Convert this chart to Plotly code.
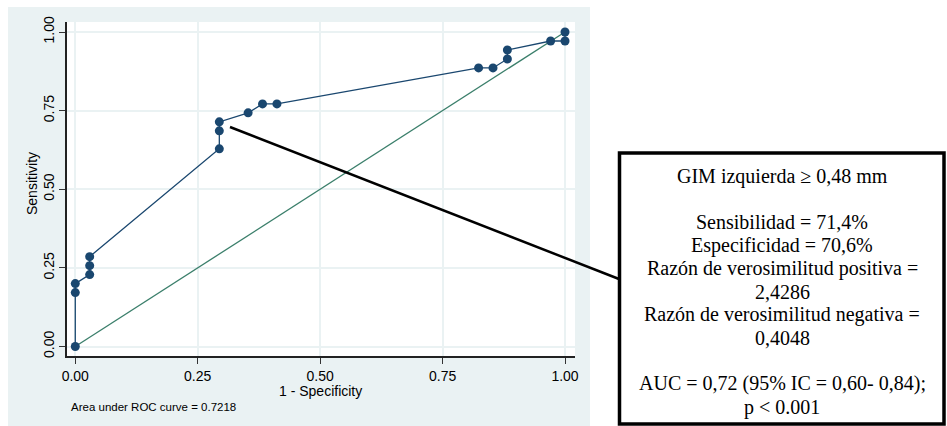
import plotly.graph_objects as go

# ROC curve points (1 - specificity, sensitivity)
fpr = [0, 0, 0, 1/34, 1/34, 1/34, 10/34, 10/34, 10/34, 12/34, 13/34, 14/34,
       28/34, 29/34, 30/34, 30/34, 33/34, 1, 1]
tpr = [0, 6/35, 7/35, 8/35, 9/35, 10/35, 22/35, 24/35, 25/35, 26/35, 27/35, 27/35,
       31/35, 31/35, 32/35, 33/35, 34/35, 34/35, 1]
ref_x = [0, 1]
ref_y = [0, 1]
tick_vals = [0, 0.25, 0.5, 0.75, 1.0]
tick_text = ["0.00", "0.25", "0.50", "0.75", "1.00"]
x_title = "1 - Specificity"
y_title = "Sensitivity"
auc_note = "Area under ROC curve = 0.7218"
box_lines = [
    "GIM izquierda ≥ 0,48 mm",
    "",
    "Sensibilidad = 71,4%",
    "Especificidad = 70,6%",
    "Razón de verosimilitud positiva =",
    "2,4286",
    "Razón de verosimilitud negativa =",
    "0,4048",
    "",
    "AUC = 0,72 (95% IC = 0,60- 0,84);",
    "p < 0.001",
]

W, H = 947, 426
L, R, T, B = 67, 575, 22, 356


def px(X):
    return (X - L) / (R - L)


def py(Y):
    return (B - Y) / (B - T)


BG = "#EAF2F3"
NAVY = "#1A476F"
GREEN = "#3B7F6B"
SANS = "Liberation Sans, Arial, sans-serif"
SERIF = "Liberation Serif, Times New Roman, serif"

fig = go.Figure()
fig.add_trace(go.Scatter(x=ref_x, y=ref_y, mode="lines",
                         line=dict(color=GREEN, width=1.3), showlegend=False,
                         hoverinfo="skip"))
fig.add_trace(go.Scatter(x=fpr, y=tpr, mode="lines+markers",
                         line=dict(color=NAVY, width=1.3),
                         marker=dict(color=NAVY, size=9),
                         showlegend=False, cliponaxis=False))

shapes = [
    dict(type="rect", xref="paper", yref="paper", x0=px(8), x1=px(590),
         y0=py(426), y1=py(7), fillcolor=BG, line=dict(width=0), layer="below"),
    dict(type="rect", xref="paper", yref="paper", x0=0, x1=1, y0=0, y1=1,
         fillcolor="white", line=dict(width=0), layer="below"),
    dict(type="line", xref="paper", yref="paper", x0=px(230), y0=py(127),
         x1=px(619), y1=py(279), line=dict(color="black", width=2.5), layer="above"),
    dict(type="rect", xref="paper", yref="paper", x0=px(619.5), x1=px(944),
         y0=py(424), y1=py(153), fillcolor="white",
         line=dict(color="black", width=3.5), layer="above"),
]

annotations = [
    dict(text=x_title, xref="paper", yref="paper", x=px(320), y=py(391),
         showarrow=False, xanchor="center", yanchor="middle",
         font=dict(family=SANS, size=14, color="black")),
    dict(text=y_title, xref="paper", yref="paper", x=px(32), y=py(184),
         showarrow=False, xanchor="center", yanchor="middle", textangle=-90,
         font=dict(family=SANS, size=14, color="black")),
    dict(text=auc_note, xref="paper", yref="paper", x=px(69), y=py(407),
         showarrow=False, xanchor="left", yanchor="middle",
         font=dict(family=SANS, size=11.5, color="black")),
]
for i, t in enumerate(box_lines):
    if not t:
        continue
    annotations.append(dict(text=t, xref="paper", yref="paper", x=px(782),
                            y=py(176 + 23.1 * i), showarrow=False,
                            xanchor="center", yanchor="middle",
                            font=dict(family=SERIF, size=20, color="black")))

axis_common = dict(
    tickvals=tick_vals, ticktext=tick_text, ticks="outside", ticklen=6,
    tickcolor="#333", tickwidth=1, showline=True, linecolor="#222", linewidth=1.5,
    showgrid=True, gridcolor=BG, gridwidth=1.5, zeroline=False,
    tickfont=dict(family=SANS, size=14, color="black"),
)

fig.update_layout(
    width=W, height=H, autosize=False,
    margin=dict(l=L, r=W - R, t=T, b=H - B, pad=0),
    paper_bgcolor="white", plot_bgcolor="rgba(0,0,0,0)",
    xaxis=dict(range=[-0.0169, 1.0204], **axis_common),
    yaxis=dict(range=[-0.0302, 1.0318], tickangle=-90, ticklabelstandoff=0,
               **axis_common),
    shapes=shapes, annotations=annotations,
)

fig.write_html("out.html", config={"displayModeBar": False},
               post_script="document.body.style.margin='0';document.body.style.overflow='hidden';")
